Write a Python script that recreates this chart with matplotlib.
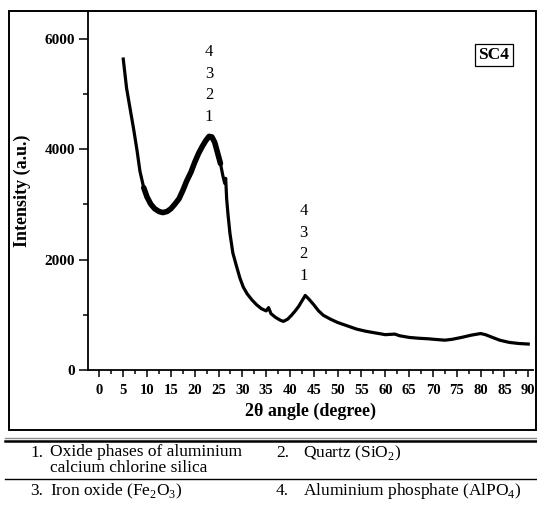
import matplotlib
matplotlib.use("Agg")
import matplotlib.pyplot as plt
from matplotlib.lines import Line2D
from matplotlib.patches import Rectangle

plt.rcParams['font.family'] = ['Liberation Serif', 'DejaVu Serif']
plt.rcParams['mathtext.fontset'] = 'custom'
plt.rcParams['mathtext.rm'] = 'Liberation Serif'

# ---- data ----
two_theta = [5.0, 5.7, 6.5, 7.2, 7.9, 8.5, 9.3, 10.0, 10.8, 11.6, 12.5, 13.3, 14.2,
             15.0, 15.8, 16.7, 17.5, 18.3, 19.2, 20.0, 20.8, 21.6, 22.3, 23.0, 23.6,
             24.2, 24.8, 25.4, 25.9, 26.3, 26.5, 26.7, 27.0, 27.4, 28.0, 28.8, 29.5,
             30.2, 31.0, 32.0, 33.0, 34.0, 35.0, 35.5, 36.0, 37.0, 38.0, 38.6, 39.5,
             40.3, 41.0, 41.8, 42.5, 43.2, 44.0, 45.0, 46.0, 47.0, 48.5, 50.0, 52.0,
             54.0, 56.0, 58.0, 60.0, 62.0, 63.0, 65.0, 67.0, 69.0, 71.0, 72.5, 74.0,
             76.0, 78.0, 80.0, 81.0, 82.5, 84.0, 86.0, 88.0, 90.0]
intensity = [5630, 5100, 4700, 4350, 3970, 3600, 3300, 3130, 3000, 2920, 2870, 2850, 2870,
             2920, 3000, 3100, 3250, 3420, 3580, 3760, 3920, 4050, 4150, 4230, 4220,
             4120, 3930, 3740, 3520, 3380, 3470, 3100, 2800, 2470, 2120, 1870, 1660,
             1500, 1380, 1270, 1180, 1110, 1070, 1130, 1020, 950, 900, 880, 920,
             990, 1060, 1150, 1250, 1350, 1280, 1180, 1070, 990, 920, 860, 800,
             740, 700, 670, 640, 650, 620, 590, 575, 565, 550, 540, 555,
             590, 630, 660, 640, 590, 540, 500, 480, 470]

peak_x = [23.0, 42.8]
peak_y = [4230, 1350]
peak_labels = ['1', '2', '3', '4']

x_ticks = list(range(0, 91, 5))
y_ticks = [0, 2000, 4000, 6000]

legend_nums = ['1.', '2.', '3.', '4.']
legend_texts = ['Oxide phases of aluminium\ncalcium chlorine silica',
                r'Quartz (SiO$_2$)',
                r'Iron oxide (Fe$_2$O$_3$)',
                r'Aluminium phosphate (AlPO$_4$)']

# ---- figure ----
W, H = 537, 516
fig = plt.figure(figsize=(W / 100, H / 100), dpi=100)

def fx(px):
    return px / W

def fy(py):
    return 1 - py / H

ax = fig.add_axes([fx(88), fy(370), fx(533) - fx(88), fy(11) - fy(370)])

# noisy band imitation: thick line in the broad hump region + normal line
ax.plot(two_theta, intensity, color='black', lw=2.3, solid_joinstyle='round')
hump = [(x, y) for x, y in zip(two_theta, intensity) if 9 <= x <= 25.5]
ax.plot([p[0] for p in hump], [p[1] for p in hump], color='black', lw=4.0,
        solid_capstyle='round', solid_joinstyle='round')

ax.set_xlim(-2.4, 91)
ax.set_ylim(0, 6500)
ax.set_xticks(x_ticks)
ax.set_xticks([t + 2.5 for t in x_ticks[:-1]], minor=True)
ax.set_yticks(y_ticks)
ax.set_yticks([1000, 3000, 5000], minor=True)
ax.set_yticklabels([str(t) for t in y_ticks], fontweight='bold', fontsize=11)
ax.set_xticklabels([str(t) for t in x_ticks], fontweight='bold', fontsize=10.5)

for s in ['top', 'right']:
    ax.spines[s].set_visible(False)
for s in ['left', 'bottom']:
    ax.spines[s].set_linewidth(1.3)

ax.tick_params(axis='y', which='major', direction='out', length=6.5, width=1.1, pad=3)
ax.tick_params(axis='y', which='minor', direction='out', length=3.5, width=1.1)
ax.tick_params(axis='x', which='major', direction='out', length=5, width=1.1, pad=5)
ax.tick_params(axis='x', which='minor', direction='out', length=3, width=1.1)

ax.set_xlabel(r'2θ angle (degree)', fontweight='bold', fontsize=13)
ax.xaxis.set_label_coords(0.5, -0.092)
ax.set_ylabel('Intensity (a.u.)', fontweight='bold', fontsize=13)
ax.yaxis.set_label_coords(-0.128, 0.5)

# stacked peak labels
for px_, py_ in zip(peak_x, peak_y):
    for i, lab in enumerate(peak_labels):
        ax.annotate(lab, xy=(px_, py_), xytext=(0, 14 + 15.5 * i),
                    textcoords='offset points', ha='center', va='center',
                    fontsize=12)

# SC4 box
fig.text(fx(494), fy(55), 'SC4', ha='center', va='center', fontsize=12.5,
         fontweight='bold',
         bbox=dict(boxstyle='square,pad=0.2', fc='white', ec='black', lw=0.9))

# outer frame
fig.add_artist(Rectangle((fx(9), fy(430)), fx(536) - fx(9), fy(11) - fy(430),
                         transform=fig.transFigure, fill=False, ec='black', lw=1.4))

# table lines
fig.add_artist(Line2D([fx(5), 1], [fy(438), fy(438)], transform=fig.transFigure,
                      color='0.55', lw=1.0))
fig.add_artist(Line2D([fx(5), 1], [fy(441), fy(441)], transform=fig.transFigure,
                      color='black', lw=1.8))
fig.add_artist(Line2D([fx(5), 1], [fy(479), fy(479)], transform=fig.transFigure,
                      color='black', lw=1.0))

# legend table text
num_x = [fx(43), fx(289), fx(43), fx(289)]
txt_x = [fx(50), fx(303), fx(50), fx(303)]
row_y = [fy(453), fy(453), fy(491), fy(491)]
for num, txt, nx, tx, ry in zip(legend_nums, legend_texts, num_x, txt_x, row_y):
    fig.text(nx, ry, num, ha='right', va='center', fontsize=12.5)
    if '\n' in txt:
        fig.text(tx, ry + fy(0) - fy(9), txt, ha='left', va='top',
                 fontsize=12.5, linespacing=1.0)
    else:
        fig.text(tx, ry, txt, ha='left', va='center', fontsize=12.5)

fig.savefig('out.png', dpi=100)
